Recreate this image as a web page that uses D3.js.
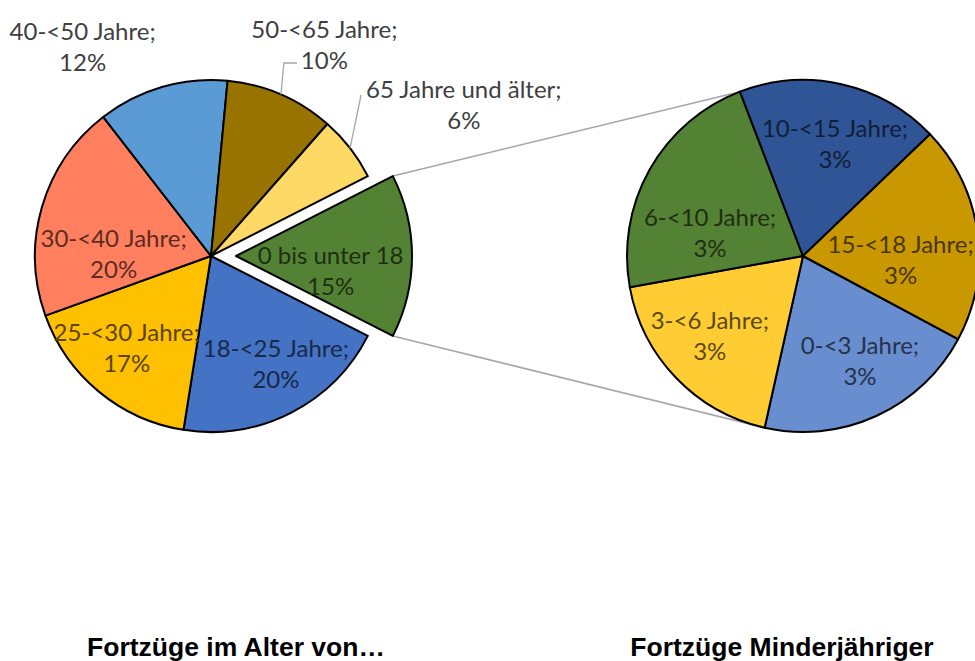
<!DOCTYPE html>
<html><head><meta charset="utf-8">
<script src="https://cdn.jsdelivr.net/npm/d3@7"></script>
<style>html,body{margin:0;padding:0;background:#fff;}svg{display:block;}</style>
</head><body>
<svg id="chart" width="975" height="661"></svg>
<script>
// ---- data ----
const mainCategories = ["0 bis unter 18", "18-<25 Jahre", "25-<30 Jahre", "30-<40 Jahre", "40-<50 Jahre", "50-<65 Jahre", "65 Jahre und älter"];
const mainValues = [15, 20, 17, 20, 12, 10, 6];
const subCategories = ["0-<3 Jahre", "3-<6 Jahre", "6-<10 Jahre", "10-<15 Jahre", "15-<18 Jahre"];
const subValues = [3.1, 2.8, 3.3, 2.8, 3.0];
const titles = ["Fortzüge im Alter von…", "Fortzüge Minderjähriger"];

// ---- style / layout ----
const mainColors = ["#548235", "#4472C4", "#FFC000", "#FF7F5F", "#5B9BD5", "#997300", "#FFD966"];
const subColors = ["#698ED0", "#FFCD33", "#548235", "#2F5597", "#C99700"];
const mainOutside = [false, false, false, false, true, true, true];
const mainNudge = [[-11, 14], [17, 13], [-17, 10], [4, 26], [-67, 1], [26, -10], [79, -17]];
const subNudge = [[13, 8], [-17, 6], [-1, 28], [9, -10], [-7, 17]];

const svg = d3.select("#chart");
const R = 176;
const mainC = [211, 256], subC = [803, 256];
const explode = 25;
const rad = d => d * Math.PI / 180;
const FONT = "Lato, 'Open Sans', sans-serif";
const FS = 24, LH = 31;

const total = d3.sum(mainValues);
const mainStart = Math.PI / 2 - (mainValues[0] / total) * Math.PI;
const mainPie = d3.pie().sort(null).value(d => d).startAngle(mainStart).endAngle(mainStart + 2 * Math.PI);
const mainArcs = mainPie(mainValues);
const arc = d3.arc().innerRadius(0).outerRadius(R);
const polar = (c, a, r) => [c[0] + r * Math.sin(a), c[1] - r * Math.cos(a)];

const subStart = rad(118.2);
const subPie = d3.pie().sort(null).value(d => d).startAngle(subStart).endAngle(subStart + 2 * Math.PI);
const subArcs = subPie(subValues);

// connector lines
const g0 = mainArcs[0];
const gMid = (g0.startAngle + g0.endAngle) / 2;
const ex = [mainC[0] + explode * Math.sin(gMid), mainC[1] - explode * Math.cos(gMid)];
const pTop = polar(ex, g0.startAngle, R), pBot = polar(ex, g0.endAngle, R);
const sTop = polar(subC, subArcs[3].startAngle, R), sBot = polar(subC, subArcs[0].endAngle, R);
svg.append("line").attr("x1", pTop[0]).attr("y1", pTop[1]).attr("x2", sTop[0]).attr("y2", sTop[1]).attr("stroke", "#A6A6A6").attr("stroke-width", 1.5);
svg.append("line").attr("x1", pBot[0]).attr("y1", pBot[1]).attr("x2", sBot[0]).attr("y2", sBot[1]).attr("stroke", "#A6A6A6").attr("stroke-width", 1.5);

// main pie
const mg = svg.append("g");
mainArcs.forEach((a, i) => {
  const c = i === 0 ? ex : mainC;
  mg.append("path").attr("d", arc(a)).attr("transform", `translate(${c[0]},${c[1]})`)
    .attr("fill", mainColors[i]).attr("stroke", "#000").attr("stroke-width", 2).attr("stroke-linejoin", "round");
});
// sub pie
const sg = svg.append("g").attr("transform", `translate(${subC[0]},${subC[1]})`);
subArcs.forEach((a, i) => {
  sg.append("path").attr("d", arc(a)).attr("fill", subColors[i]).attr("stroke", "#000").attr("stroke-width", 2).attr("stroke-linejoin", "round");
});

function label(x, y, l1, l2, color) {
  const t = svg.append("text").attr("font-family", FONT).attr("font-size", FS).attr("fill", color).attr("text-anchor", "middle");
  t.append("tspan").attr("x", x).attr("y", y - LH / 2).attr("dominant-baseline", "central").text(l1);
  t.append("tspan").attr("x", x).attr("y", y + LH / 2).attr("dominant-baseline", "central").text(l2);
}

// leader lines for outside labels
{
  const a5 = mainArcs[5], m5 = (a5.startAngle + a5.endAngle) / 2;
  const e5 = polar(mainC, m5, R);
  svg.append("path").attr("d", `M${e5[0]},${e5[1]}L${e5[0] + 3},${63}L${e5[0] + 16},${63}`).attr("fill", "none").attr("stroke", "#A6A6A6").attr("stroke-width", 1.3);
  const a6 = mainArcs[6], m6 = (a6.startAngle + a6.endAngle) / 2;
  const e6 = polar(mainC, m6, R);
  svg.append("path").attr("d", `M${e6[0]},${e6[1]}L${e6[0] + 11},${95}`).attr("fill", "none").attr("stroke", "#A6A6A6").attr("stroke-width", 1.3);
}

// main labels
mainArcs.forEach((a, i) => {
  const mid = (a.startAngle + a.endAngle) / 2;
  const c = i === 0 ? ex : mainC;
  const base = polar(c, mid, mainOutside[i] ? R * 1.25 : R * 0.6);
  const x = base[0] + mainNudge[i][0], y = base[1] + mainNudge[i][1];
  const pct = Math.round(mainValues[i] / total * 100) + "%";
  const l1 = i === 0 ? mainCategories[i] : mainCategories[i] + ";";
  const col = mainOutside[i] ? "#404040" : d3.color(mainColors[i]).darker(2.9).formatHex();
  label(x, y, l1, pct, col);
});

// sub labels
subArcs.forEach((a, i) => {
  const mid = (a.startAngle + a.endAngle) / 2;
  const base = polar(subC, mid, R * 0.6);
  label(base[0] + subNudge[i][0], base[1] + subNudge[i][1], subCategories[i] + ";", Math.round(subValues[i]) + "%", d3.color(subColors[i]).darker(2.9).formatHex());
});

// titles
const tf = "'Liberation Sans', Arial, sans-serif";
svg.append("text").attr("x", 236).attr("y", 656).attr("text-anchor", "middle").attr("font-family", tf).attr("font-weight", "bold").attr("font-size", 26.5).attr("fill", "#000").text(titles[0]);
svg.append("text").attr("x", 782).attr("y", 656).attr("text-anchor", "middle").attr("font-family", tf).attr("font-weight", "bold").attr("font-size", 26.5).attr("fill", "#000").text(titles[1]);
</script>
</body></html>
